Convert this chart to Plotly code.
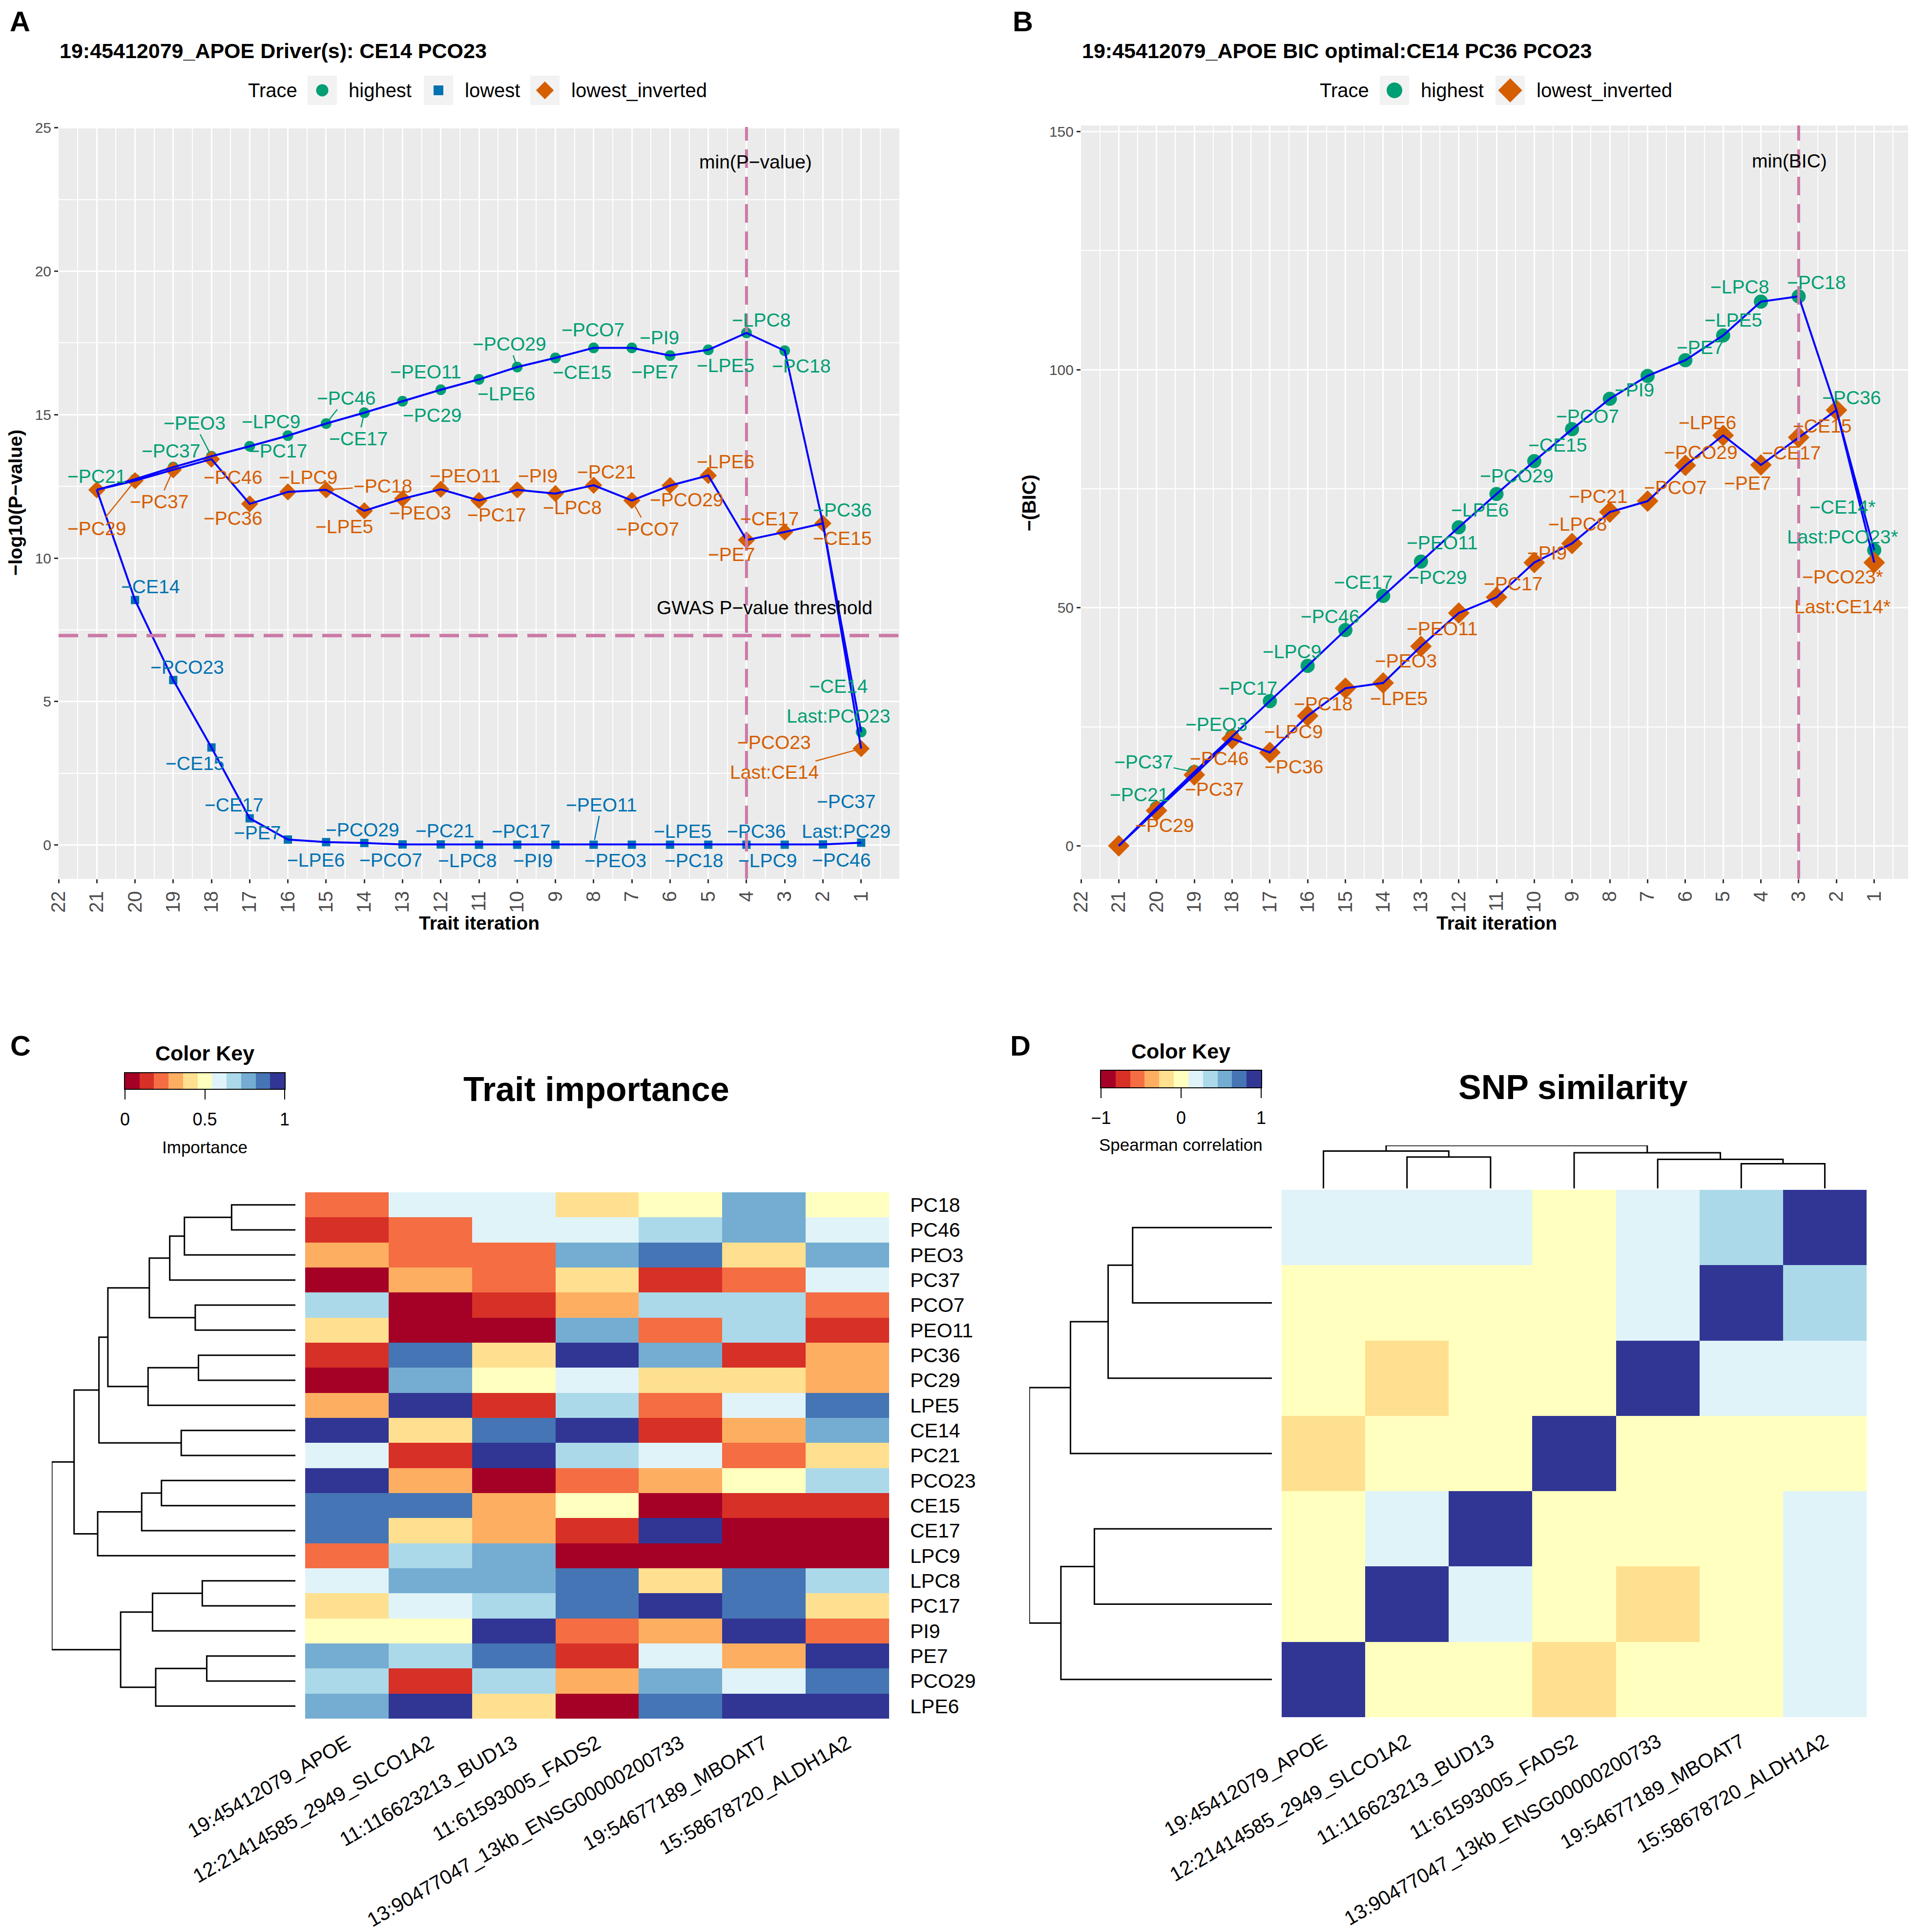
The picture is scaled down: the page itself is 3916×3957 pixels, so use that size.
"""Backward trait elimination traces (A, B) and the two clustered heatmaps (C, D)."""

import plotly.graph_objects as go

W, H = 3916, 3957
FONT = "Liberation Sans, Arial, Helvetica, sans-serif"

GREEN = "#009E73"
BLUE = "#0072B2"
ORANGE = "#D55E00"
LINE = "#0000FF"
PINK = "#CC79A7"
TICK_GREY = "#4D4D4D"
RDYLBU = ["#A50026", "#D73027", "#F46D43", "#FDAE61", "#FEE090", "#FFFFBF",
          "#E0F3F8", "#ABD9E9", "#74ADD1", "#4575B4", "#313695"]

# ---------------------------------------------------------------- data
iterations = list(range(21, 0, -1))

# panel A: -log10(P-value) per iteration
pval_highest = [12.38, 12.75, 13.17, 13.55, 13.90, 14.27, 14.69, 15.07, 15.47, 15.87, 16.23,
                16.66, 16.98, 17.33, 17.33, 17.06, 17.26, 17.85, 17.23, 11.21, 3.94]
pval_lowest = [12.38, 8.54, 5.75, 3.40, 0.93, 0.19, 0.10, 0.07, 0.02, 0.02, 0.01,
               0.01, 0.01, 0.01, 0.01, 0.01, 0.01, 0.01, 0.01, 0.02, 0.08]
pval_lowest_inv = [12.38, 12.70, 13.08, 13.45, 11.89, 12.31, 12.38, 11.65, 12.07, 12.40, 12.01,
                   12.38, 12.25, 12.54, 12.01, 12.53, 12.88, 10.63, 10.91, 11.21, 3.36]

high_labels = ["", "−PC21", "−PC37", "−PEO3", "−PC17", "−LPC9", "−PC46", "−CE17", "−PC29",
               "−PEO11", "−LPE6", "−PCO29", "−CE15", "−PCO7", "−PI9", "−PE7", "−LPE5",
               "−LPC8", "−PC18", "−PC36", "−CE14\nLast:PCO23"]
low_labels = ["", "−CE14", "−PCO23", "−CE15", "−CE17", "−PE7", "−LPE6", "−PCO29", "−PCO7",
              "−PC21", "−LPC8", "−PC17", "−PI9", "−PEO11", "−PEO3", "−LPE5", "−PC18",
              "−PC36", "−LPC9", "−PC46", "−PC37\nLast:PC29"]
inv_labels = ["", "−PC29", "−PC37", "−PC46", "−PC36", "−LPC9", "−PC18", "−LPE5", "−PEO3",
              "−PEO11", "−PC17", "−PI9", "−LPC8", "−PC21", "−PCO7", "−PCO29", "−LPE6",
              "−PE7", "−CE17", "−CE15", "−PCO23\nLast:CE14"]

gwas_threshold = 7.30

# panel B: -(BIC) per iteration
bic_highest = [0.0, 7.9, 15.5, 23.0, 30.4, 37.8, 45.3, 52.5, 59.7, 66.9, 73.9,
               80.8, 87.5, 93.9, 98.7, 102.0, 107.2, 114.3, 115.4, 91.5, 62.1]
bic_lowest_inv = [0.0, 7.4, 14.9, 22.5, 19.6, 27.3, 33.1, 34.2, 41.9, 48.9, 52.2,
                  59.5, 63.5, 70.1, 72.4, 79.9, 86.2, 80.0, 85.8, 91.5, 59.5]
high_labels_b = high_labels[:-1] + ["−CE14*\nLast:PCO23*"]
inv_labels_b = inv_labels[:-1] + ["−PCO23*\nLast:CE14*"]

# panel C: trait importance (rows in dendrogram order)
traits = ["PC18", "PC46", "PEO3", "PC37", "PCO7", "PEO11", "PC36", "PC29", "LPE5", "CE14",
          "PC21", "PCO23", "CE15", "CE17", "LPC9", "LPC8", "PC17", "PI9", "PE7", "PCO29", "LPE6"]
snps = ["19:45412079_APOE", "12:21414585_2949_SLCO1A2", "11:116623213_BUD13",
        "11:61593005_FADS2", "13:90477047_13kb_ENSG00000200733", "19:54677189_MBOAT7",
        "15:58678720_ALDH1A2"]
importance = [
    [0.22, 0.59, 0.60, 0.41, 0.50, 0.77, 0.51],
    [0.14, 0.23, 0.59, 0.58, 0.68, 0.76, 0.60],
    [0.32, 0.22, 0.23, 0.77, 0.86, 0.41, 0.78],
    [0.04, 0.33, 0.22, 0.40, 0.13, 0.23, 0.59],
    [0.68, 0.03, 0.13, 0.32, 0.69, 0.68, 0.22],
    [0.41, 0.04, 0.05, 0.77, 0.23, 0.67, 0.14],
    [0.14, 0.86, 0.41, 0.96, 0.77, 0.13, 0.32],
    [0.05, 0.78, 0.50, 0.59, 0.41, 0.40, 0.32],
    [0.32, 0.95, 0.14, 0.68, 0.22, 0.59, 0.86],
    [0.96, 0.41, 0.86, 0.95, 0.14, 0.32, 0.77],
    [0.59, 0.14, 0.96, 0.68, 0.60, 0.22, 0.41],
    [0.97, 0.32, 0.04, 0.23, 0.33, 0.50, 0.68],
    [0.86, 0.87, 0.32, 0.50, 0.04, 0.14, 0.13],
    [0.86, 0.41, 0.32, 0.14, 0.96, 0.03, 0.04],
    [0.23, 0.68, 0.77, 0.04, 0.03, 0.04, 0.02],
    [0.59, 0.77, 0.78, 0.86, 0.41, 0.86, 0.68],
    [0.41, 0.59, 0.68, 0.86, 0.96, 0.87, 0.41],
    [0.50, 0.51, 0.96, 0.22, 0.32, 0.95, 0.23],
    [0.77, 0.68, 0.86, 0.14, 0.59, 0.32, 0.96],
    [0.68, 0.14, 0.68, 0.32, 0.77, 0.59, 0.86],
    [0.77, 0.96, 0.41, 0.04, 0.86, 0.96, 0.97],
]
# row clustering of traits, nodes are (left, right, merge height)
tc_a = ((("PC18", "PC46", 1.00), "PEO3", 1.74), "PC37", 1.97)
tc_b = (tc_a, ("PCO7", "PEO11", 1.57), 2.29)
tc_c = (tc_b, (("PC36", "PC29", 1.52), "LPE5", 2.31), 2.94)
tc_d = (tc_c, ("CE14", "PC21", 1.79), 3.08)
tc_e = ((("PCO23", "CE15", 2.10), "CE17", 2.41), "LPC9", 3.10)
tc_f = ((("LPC8", "PC17", 1.46), "PI9", 2.24), (("PE7", "PCO29", 1.39), "LPE6", 2.19), 2.74)
trait_tree = ((tc_d, tc_e, 3.47), tc_f, 3.82)

# panel D: Spearman correlation between SNPs (same order as snps)
snp_corr = [
    [1.00, 0.02, 0.01, -0.16, 0.03, 0.02, 0.15],
    [0.02, 1.00, 0.17, 0.03, -0.15, 0.01, 0.16],
    [0.01, 0.17, 1.00, 0.02, 0.03, 0.04, 0.14],
    [-0.16, 0.03, 0.02, 1.00, 0.05, 0.03, 0.02],
    [0.03, -0.15, 0.03, 0.05, 1.00, 0.16, 0.18],
    [0.02, 0.01, 0.04, 0.03, 0.16, 1.00, 0.36],
    [0.15, 0.16, 0.14, 0.02, 0.18, 0.36, 1.00],
]
snp_tree = (
    (snps[0], (snps[1], snps[2], 2.97), 3.53),
    (snps[3], (snps[4], (snps[5], snps[6], 2.33), 2.74), 3.37),
    4.06,
)

# ---------------------------------------------------------------- label placement (px)
off_a_high = [None, (-79, -6), (-5, -33), (-35, -68), (58, 10), (-35, -29), (41, -52), (-12, 53),
              (61, 29), (-31, -37), (56, 29), (-16, -47), (54, 30), (-1, -37), (56, -21),
              (-31, 33), (35, 32), (30, -26), (34, 31), (40, -28), (-47, -63)]
off_a_low = [None, (31, -27), (29, -26), (-34, 33), (-32, -28), (-62, -14), (-21, 37), (-4, -27),
             (-24, 32), (8, -28), (-24, 32), (8, -28), (-46, 32), (16, -82), (-34, 32),
             (26, -28), (-30, 32), (20, -28), (-35, 32), (38, 32), (-31, -54)]
off_a_inv = [None, (-79, 98), (-29, 65), (44, 37), (-34, 29), (41, -30), (116, -8), (-41, 32),
             (36, 29), (50, -28), (36, 29), (42, -29), (34, 29), (26, -27), (32, 58),
             (34, 29), (35, -28), (-30, 29), (-31, -27), (40, 30), (-178, 18)]
off_b_high = [None, (-36, -28), (-104, -21), (-32, -25), (-45, -26), (-32, -29), (-32, -28),
              (-41, -28), (34, 32), (-34, 32), (-34, 33), (-36, 30), (-30, 32), (-46, 36),
              (-27, 29), (31, -26), (21, -32), (-44, -30), (36, -29), (31, -26), (-65, -58)]
off_b_inv = [None, (16, 30), (41, 29), (-26, 41), (49, 29), (-29, 32), (-46, 32), (32, 32),
             (-31, 30), (-34, 32), (34, -28), (26, -20), (11, -40), (-24, -32), (57, -28),
             (32, -27), (-32, -26), (-27, 37), (-15, 32), (-29, 32), (-65, 60)]


def px_x(p):
    return p / W


def px_y(p):
    return 1 - p / H


def point_labels(xs, ys, labels, offsets, color, xref, yref, connectors=()):
    anns = []
    for i, (x, y, lab, off) in enumerate(zip(xs, ys, labels, offsets)):
        if not lab:
            continue
        dx, dy = off
        parts = lab.split("\n")
        for j, part in enumerate(parts):
            shift = (j - (len(parts) - 1) / 2) * 61
            draw = i in connectors and j == len(parts) - 1
            anns.append(dict(
                x=x, y=y, xref=xref, yref=yref, text=part, showarrow=True,
                ax=dx, ay=dy + shift, arrowhead=0, arrowwidth=2.5, standoff=10,
                arrowcolor=color if draw else "rgba(0,0,0,0)",
                font=dict(family=FONT, size=39, color=color)))
    return anns


def tree_lines(node, leaf_pos):
    hs, ps = [], []

    def walk(n):
        if isinstance(n, str):
            return leaf_pos[n], 0.0
        left, right, h = n
        pl, hl = walk(left)
        pr, hr = walk(right)
        hs.extend([hl, h, h, hr, None])
        ps.extend([pl, pl, pr, pr, None])
        return (pl + pr) / 2, h

    walk(node)
    return hs, ps


def discrete_scale(colors):
    n = len(colors)
    scale = []
    for k, c in enumerate(colors):
        scale.append([k / n, c])
        scale.append([(k + 1) / n, c])
    return scale


fig = go.Figure()

# ---------------------------------------------------------------- panel A
series_a = [("highest", pval_highest, GREEN, "circle", 22),
            ("lowest", pval_lowest, BLUE, "square", 17),
            ("lowest_inverted", pval_lowest_inv, ORANGE, "diamond", 27)]
for name, vals, col, sym, size in series_a:
    fig.add_trace(go.Scatter(x=iterations, y=vals, mode="markers", name=name,
                             marker=dict(color=col, symbol=sym, size=size, line=dict(width=0)),
                             xaxis="x", yaxis="y"))
for name, vals, col, sym, size in series_a:
    fig.add_trace(go.Scatter(x=iterations, y=vals, mode="lines",
                             line=dict(color=LINE, width=4), xaxis="x", yaxis="y"))

# ---------------------------------------------------------------- panel B
series_b = [("highest", bic_highest, GREEN, "circle", 29),
            ("lowest_inverted", bic_lowest_inv, ORANGE, "diamond", 34)]
for name, vals, col, sym, size in series_b:
    fig.add_trace(go.Scatter(x=iterations, y=vals, mode="markers", name=name,
                             marker=dict(color=col, symbol=sym, size=size, line=dict(width=0)),
                             xaxis="x2", yaxis="y2"))
for name, vals, col, sym, size in series_b:
    fig.add_trace(go.Scatter(x=iterations, y=vals, mode="lines",
                             line=dict(color=LINE, width=4), xaxis="x2", yaxis="y2"))

best_a = iterations[pval_highest.index(max(pval_highest))]
best_b = iterations[bic_highest.index(max(bic_highest))]

# ---------------------------------------------------------------- panel C
cs = discrete_scale(RDYLBU)
fig.add_trace(go.Heatmap(z=importance, x=list(range(len(snps))), y=list(range(len(traits))),
                         colorscale=cs, zmin=0, zmax=1, showscale=False,
                         xaxis="x3", yaxis="y3"))
hs, ps = tree_lines(trait_tree, {t: i for i, t in enumerate(traits)})
fig.add_trace(go.Scatter(x=hs, y=ps, mode="lines", line=dict(color="black", width=3),
                         xaxis="x4", yaxis="y4"))
key_c = [(k + 0.5) / 11 for k in range(11)]
fig.add_trace(go.Heatmap(z=[key_c], x=key_c, y=[0], colorscale=cs, zmin=0, zmax=1,
                         showscale=False, xaxis="x5", yaxis="y5"))

# ---------------------------------------------------------------- panel D
fig.add_trace(go.Heatmap(z=snp_corr, x=list(range(len(snps))), y=list(range(len(snps))),
                         colorscale=cs, zmin=-1, zmax=1, showscale=False,
                         xaxis="x6", yaxis="y6"))
pos_snp = {s: i for i, s in enumerate(snps)}
hs, ps = tree_lines(snp_tree, pos_snp)
fig.add_trace(go.Scatter(x=hs, y=ps, mode="lines", line=dict(color="black", width=3),
                         xaxis="x7", yaxis="y7"))
fig.add_trace(go.Scatter(x=ps, y=hs, mode="lines", line=dict(color="black", width=3),
                         xaxis="x8", yaxis="y8"))
key_d = [-1 + (k + 0.5) * 2 / 11 for k in range(11)]
fig.add_trace(go.Heatmap(z=[key_d], x=key_d, y=[0], colorscale=cs, zmin=-1, zmax=1,
                         showscale=False, xaxis="x9", yaxis="y9"))

# ---------------------------------------------------------------- ggplot-style legends (page px)
# (text, key-box left edge, marker symbol, marker size, colour)
legend_a = [("highest", 622, "circle", 25, GREEN), ("lowest", 860, "square", 20, BLUE),
            ("lowest_inverted", 1078, "diamond", 28, ORANGE)]
legend_b = [("highest", 2818, "circle", 32, GREEN),
            ("lowest_inverted", 3055, "diamond", 38, ORANGE)]
legend_row = 177
key_w = 60
legend_top, legend_bottom = legend_row - 40, legend_row + 40
legend_shapes = []
legend_anns = []
for title_x, entries in ((550, legend_a), (2745, legend_b)):
    legend_anns.append(dict(x=px_x(title_x), y=px_y(legend_row), xref="paper", yref="paper",
                            text="Trace", showarrow=False, xanchor="center", yanchor="middle",
                            font=dict(family=FONT, size=40, color="black")))
    for text, left, sym, size, col in entries:
        legend_shapes.append(dict(type="rect", xref="paper", yref="paper",
                                  x0=px_x(left), x1=px_x(left + key_w),
                                  y0=px_y(legend_row + key_w / 2),
                                  y1=px_y(legend_row - key_w / 2),
                                  fillcolor="#F2F2F2", line=dict(width=0), layer="below"))
        fig.add_trace(go.Scatter(x=[left + key_w / 2], y=[legend_row], mode="markers",
                                 marker=dict(color=col, symbol=sym, size=size,
                                             line=dict(width=0)),
                                 xaxis="x10", yaxis="y10", hoverinfo="skip"))
        legend_anns.append(dict(x=px_x(left + key_w + 22), y=px_y(legend_row),
                                xref="paper", yref="paper", text=text, showarrow=False,
                                xanchor="left", yanchor="middle",
                                font=dict(family=FONT, size=40, color="black")))

# ---------------------------------------------------------------- axes
tick_font = dict(family=FONT, size=30, color=TICK_GREY)
iter_axis = dict(range=[22, 0], tickmode="array", tickvals=list(range(1, 23)),
                 ticktext=[str(v) for v in range(1, 23)], tickangle=-90,
                 tickfont=dict(family=FONT, size=40, color=TICK_GREY),
                 ticks="outside", ticklen=8, tickwidth=2.5, tickcolor="#333333",
                 showgrid=True, gridcolor="white", gridwidth=3, zeroline=False,
                 minor=dict(tickmode="array", tickvals=[k + 0.5 for k in range(22)],
                            showgrid=True, gridcolor="white", gridwidth=1.5, ticks=""),
                 showline=False)
val_axis = dict(tickfont=tick_font, ticks="outside", ticklen=8, tickwidth=2.5,
                tickcolor="#333333", showgrid=True, gridcolor="white", gridwidth=3,
                zeroline=False, showline=False)
blank = dict(showgrid=False, zeroline=False, showticklabels=False, ticks="", showline=False)

heat_x = dict(range=[-0.5, 6.5], tickmode="array", tickvals=list(range(len(snps))),
              ticktext=snps, tickangle=-30, tickfont=dict(family=FONT, size=41, color="black"),
              ticks="", ticklabelstandoff=18, showgrid=False, zeroline=False, showline=False)

key_axis = dict(ticks="outside", ticklen=20, tickwidth=2, tickcolor="black",
                showline=True, linecolor="black", linewidth=2, mirror=True,
                tickfont=dict(family=FONT, size=36, color="black"), ticklabelstandoff=10,
                showgrid=False, zeroline=False)

fig.update_layout(
    xaxis=dict(domain=[px_x(112), px_x(1834)], anchor="y", **iter_axis),
    yaxis=dict(domain=[px_y(1792), px_y(252)], anchor="x", range=[-1.18, 25.03],
               tickvals=[0, 5, 10, 15, 20, 25],
               minor=dict(tickmode="array", tickvals=[2.5, 7.5, 12.5, 17.5, 22.5],
                          showgrid=True, gridcolor="white", gridwidth=1.5, ticks=""),
               **val_axis),
    xaxis2=dict(domain=[px_x(2206), px_x(3908)], anchor="y2", **iter_axis),
    yaxis2=dict(domain=[px_y(1792), px_y(249)], anchor="x2", range=[-6.94, 151.3],
                tickvals=[0, 50, 100, 150],
                minor=dict(tickmode="array", tickvals=[25, 75, 125],
                           showgrid=True, gridcolor="white", gridwidth=1.5, ticks=""),
                **val_axis),
    xaxis3=dict(domain=[px_x(617), px_x(1813)], anchor="y3", **heat_x),
    yaxis3=dict(domain=[px_y(3512), px_y(2434)], anchor="x3", range=[len(traits) - 0.5, -0.5],
                side="right", tickmode="array", tickvals=list(range(len(traits))),
                ticktext=traits, tickfont=dict(family=FONT, size=41, color="black"),
                ticks="", ticklabelstandoff=42, showgrid=False, zeroline=False),
    xaxis4=dict(domain=[px_x(98), px_x(597)], anchor="y4", range=[3.82, 0], **blank),
    yaxis4=dict(domain=[px_y(3512), px_y(2434)], anchor="x4",
                range=[len(traits) - 0.5, -0.5], **blank),
    xaxis5=dict(domain=[px_x(248), px_x(575)], anchor="y5", range=[0, 1],
                tickmode="array", tickvals=[0, 0.5, 1], ticktext=["0", "0.5", "1"], **key_axis),
    yaxis5=dict(domain=[px_y(2222), px_y(2190)], anchor="x5", range=[-0.5, 0.5],
                showline=True, linecolor="black", linewidth=2, mirror=True,
                showticklabels=False, ticks="", showgrid=False, zeroline=False),
    xaxis6=dict(domain=[px_x(2617), px_x(3815)], anchor="y6", **heat_x),
    yaxis6=dict(domain=[px_y(3509), px_y(2429)], anchor="x6", range=[-0.5, 6.5], **blank),
    xaxis7=dict(domain=[px_x(2100), px_x(2597)], anchor="y7", range=[4.06, 0], **blank),
    yaxis7=dict(domain=[px_y(3509), px_y(2429)], anchor="x7", range=[-0.5, 6.5], **blank),
    xaxis8=dict(domain=[px_x(2617), px_x(3815)], anchor="y8", range=[-0.5, 6.5], **blank),
    yaxis8=dict(domain=[px_y(2426), px_y(2338)], anchor="x8", range=[0, 4.06], **blank),
    xaxis9=dict(domain=[px_x(2247), px_x(2575)], anchor="y9", range=[-1, 1],
                tickmode="array", tickvals=[-1, 0, 1], ticktext=["−1", "0", "1"], **key_axis),
    yaxis9=dict(domain=[px_y(2219), px_y(2185)], anchor="x9", range=[-0.5, 0.5],
                showline=True, linecolor="black", linewidth=2, mirror=True,
                showticklabels=False, ticks="", showgrid=False, zeroline=False),
    xaxis10=dict(domain=[0, 1], anchor="y10", range=[0, W], **blank),
    yaxis10=dict(domain=[px_y(legend_bottom), px_y(legend_top)], anchor="x10",
                 range=[legend_bottom, legend_top], **blank),
)

# ---------------------------------------------------------------- backgrounds and reference lines
shapes = []
for xr, yr in (("x", "y"), ("x2", "y2")):
    shapes.append(dict(type="rect", xref=xr + " domain", yref=yr + " domain", x0=0, x1=1,
                       y0=0, y1=1, fillcolor="#EBEBEB", line=dict(width=0), layer="below"))
shapes.append(dict(type="line", xref="x", yref="y domain", x0=best_a, x1=best_a, y0=0, y1=1,
                   line=dict(color=PINK, width=6, dash="38px,18px")))
shapes.append(dict(type="line", xref="x domain", yref="y", x0=0, x1=1,
                   y0=gwas_threshold, y1=gwas_threshold,
                   line=dict(color=PINK, width=7, dash="40px,20px")))
shapes.append(dict(type="line", xref="x2", yref="y2 domain", x0=best_b, x1=best_b, y0=0, y1=1,
                   line=dict(color=PINK, width=6, dash="38px,18px")))
shapes += legend_shapes

# ---------------------------------------------------------------- annotations
anns = []
anns += point_labels(iterations, pval_highest, high_labels, off_a_high, GREEN, "x", "y",
                     connectors={3, 6, 7, 11})
anns += point_labels(iterations, pval_lowest, low_labels, off_a_low, BLUE, "x", "y",
                     connectors={13})
anns += point_labels(iterations, pval_lowest_inv, inv_labels, off_a_inv, ORANGE, "x", "y",
                     connectors={1, 2, 6, 14, 20})
anns += point_labels(iterations, bic_highest, high_labels_b, off_b_high, GREEN, "x2", "y2",
                     connectors={2})
anns += point_labels(iterations, bic_lowest_inv, inv_labels_b, off_b_inv, ORANGE, "x2", "y2")

text_black = dict(family=FONT, size=39, color="black")
anns.append(dict(x=3.76, y=23.82, xref="x", yref="y", text="min(P−value)", showarrow=False,
                 font=text_black))
anns.append(dict(x=3.52, y=8.28, xref="x", yref="y", text="GWAS P−value threshold",
                 showarrow=False, font=text_black))
anns.append(dict(x=3.24, y=143.9, xref="x2", yref="y2", text="min(BIC)", showarrow=False,
                 font=text_black))


def paper_text(x, y, text, size, bold=False, anchor="center", angle=0):
    return dict(x=px_x(x), y=px_y(y), xref="paper", yref="paper",
                text="<b>%s</b>" % text if bold else text, showarrow=False,
                xanchor=anchor, yanchor="middle", textangle=angle,
                font=dict(family=FONT, size=size, color="black"))


anns += [
    paper_text(10, 35, "A", 58, True, "left"),
    paper_text(2064, 35, "B", 58, True, "left"),
    paper_text(11, 2133, "C", 58, True, "left"),
    paper_text(2059, 2133, "D", 58, True, "left"),
    paper_text(112, 96, "19:45412079_APOE Driver(s): CE14 PCO23", 43, True, "left"),
    paper_text(2206, 96, "19:45412079_APOE BIC optimal:CE14 PC36 PCO23", 43, True, "left"),
    paper_text(973, 1882, "Trait iteration", 39, True),
    paper_text(3057, 1882, "Trait iteration", 39, True),
    paper_text(24, 1022, "−log10(P−value)", 39, True, angle=-90),
    paper_text(2100, 1022, "−(BIC)", 39, True, angle=-90),
    paper_text(411, 2149, "Color Key", 43, True),
    paper_text(411, 2341, "Importance", 35),
    paper_text(2410, 2145, "Color Key", 43, True),
    paper_text(2410, 2336, "Spearman correlation", 35),
    paper_text(1213, 2223, "Trait importance", 70, True),
    paper_text(3214, 2219, "SNP similarity", 70, True),
]
anns += legend_anns

fig.update_layout(
    template="none",
    width=W, height=H,
    margin=dict(l=0, r=0, t=0, b=0),
    paper_bgcolor="white", plot_bgcolor="rgba(0,0,0,0)",
    font=dict(family=FONT, color="black"),
    shapes=shapes, annotations=anns,
    showlegend=False,
)

fig.write_html("out.html")
